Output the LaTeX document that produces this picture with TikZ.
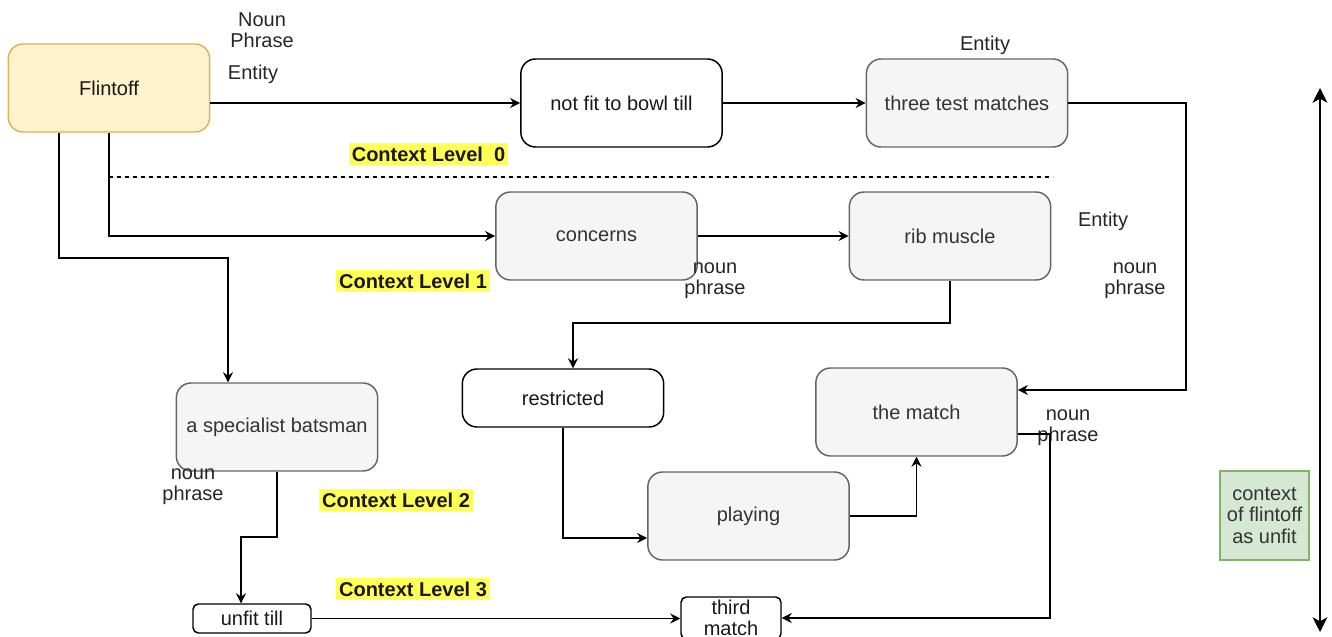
\documentclass[tikz,border=0pt]{standalone}
\usepackage{fontspec}
\setmainfont{Liberation Sans}
\usetikzlibrary{arrows.meta,calc}
\definecolor{yelfill}{HTML}{FFF2CC}
\definecolor{yelstroke}{HTML}{D6B656}
\definecolor{grayfill}{HTML}{F5F5F5}
\definecolor{graystroke}{HTML}{666666}
\definecolor{graytext}{HTML}{333333}
\definecolor{greenfill}{HTML}{D5E8D4}
\definecolor{greenstroke}{HTML}{82B366}
\definecolor{hl}{HTML}{FFFF55}
\tikzset{
  base/.style={rounded corners=11pt, line width=1.1pt, inner sep=0pt, align=center,
    font=\fontsize{15}{16}\selectfont},
  bigbox/.style={base, minimum width=151pt, minimum height=66pt},
  yelbox/.style={bigbox, draw=yelstroke, fill=yelfill, text=black!90},
  whitebox/.style={bigbox, draw=black, fill=white, text=black!90},
  graybox/.style={bigbox, draw=graystroke, fill=grayfill, text=graytext},
  smallbox/.style={base, rounded corners=4pt, draw=black, fill=white, text=black!90},
  lbl/.style={inner sep=0pt, align=center, text=black!85, font=\fontsize{15}{16}\selectfont},
  ctx/.style={fill=hl, inner xsep=2pt, inner ysep=2.5pt, font=\fontsize{15}{16}\selectfont\bfseries, text=black!90},
  arr/.style={line width=1.1pt, -{Stealth[length=7.5pt,width=7.5pt,inset=2.5pt]}},
  ln/.style={line width=1.1pt},
}
\begin{document}
\begin{tikzpicture}[x=0.75pt,y=-0.75pt]
\useasboundingbox (0,0) rectangle (1332,636);
% nodes
\node[yelbox] (flint) at (109,88) {Flintoff};
\node[whitebox] (notfit) at (621.5,103) {not fit to bowl till};
\node[graybox] (three) at (967,103) {three test matches};
\node[graybox] (concerns) at (596.5,236) {concerns};
\node[graybox] (rib) at (950,236) {rib muscle};
\node[graybox] (spec) at (277,427) {a specialist batsman};
\node[whitebox, minimum height=43.5pt] (restr) at (563,398) {restricted};
\node[graybox] (match) at (916.5,412) {the match};
\node[graybox] (playing) at (748.5,516) {playing};
\node[smallbox, minimum width=88.5pt, minimum height=21.75pt] (unfit) at (252,618.5) {unfit till};
\node[smallbox, minimum width=75pt, minimum height=31.5pt] (third) at (731,618) {third\\match};
\node[base, rounded corners=0pt, draw=greenstroke, fill=greenfill, text=graytext,
  minimum width=66.75pt, minimum height=66.75pt] (context) at (1264.5,515.5) {context\\of flintoff\\as unfit};
% labels
\node[lbl] (lnp0) at (262,30) {Noun\\Phrase};
\node[lbl] (lent0) at (253,74) {Entity};
\node[lbl] (lent1) at (985,45) {Entity};
\node[lbl] (lent2) at (1103,221) {Entity};
\node[lbl] (lnp1) at (1135,281) {noun\\phrase};
\node[lbl] (lnp2) at (715,281) {noun\\phrase};
\node[lbl] (lnp3) at (1068,428) {noun\\phrase};
\node[lbl] (lnp4) at (193,487) {noun\\phrase};
\node[ctx] (c0) at (428.5,154) {Context Level\ \ 0};
\node[ctx] (c1) at (413,281) {Context Level 1};
\node[ctx] (c2) at (396,500) {Context Level 2};
\node[ctx] (c3) at (413,589) {Context Level 3};
% connectors
\draw[arr] (flint.east |- notfit.west) -- (notfit.west);
\draw[arr] (notfit.east) -- (three.west);
\draw[arr] (three.east) -| (1186,390) -- ([yshift=16.5pt]match.east);
\draw[arr] (flint.south) |- (concerns.west);
\draw[arr] (concerns.east) -- (rib.west);
\draw[arr] ([xshift=-37.5pt]flint.south) |- (228,258) -- (spec.north -| 228,0);
\draw[arr] (rib.south) |- (573,323) -- (restr.north -| 573,0);
\draw[arr] (spec.south) |- (241,537) -- (unfit.north -| 241,0);
\draw[arr] (restr.south) |- ([yshift=-16.5pt]playing.west);
\draw[arr] (playing.east) -| (match.south);
\draw[arr] ([yshift=-16.5pt]match.east) -| (1050,618) -- (third.east);
\draw[arr] (unfit.east) -- (third.west |- unfit.east);
\coordinate (dashend) at (1053,177);
\draw[line width=0.9pt, dash pattern=on 3pt off 3pt] (109,177) -- (dashend);
\coordinate (vtop) at (1320,88);
\coordinate (vbot) at (1320,632);
\draw[line width=2pt, {Stealth[length=11pt,width=11pt,inset=3pt]}-{Stealth[length=11pt,width=11pt,inset=3pt]}] (vtop) -- (vbot);
\end{tikzpicture}
\end{document}
